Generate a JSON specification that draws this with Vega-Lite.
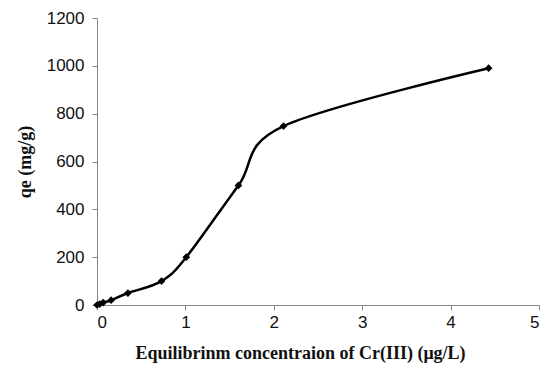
{
  "$schema": "https://vega.github.io/schema/vega-lite/v6.json",
  "autosize": "none",
  "width": 442,
  "height": 287,
  "padding": {"left": 97, "top": 18, "right": 7, "bottom": 66},
  "background": "white",
  "config": {
    "view": {"stroke": null},
    "axis": {
      "grid": false,
      "domainColor": "#868686",
      "tickColor": "#868686",
      "tickSize": 5,
      "labelFont": "Liberation Sans",
      "labelFontSize": 17,
      "labelColor": "#111111",
      "titleFont": "Liberation Serif",
      "titleFontSize": 18,
      "titleFontWeight": "bold",
      "titleColor": "#111111"
    }
  },
  "data": {
    "values": [
      {"x": 0, "y": 0},
      {"x": 0.03, "y": 4},
      {"x": 0.07, "y": 10},
      {"x": 0.16, "y": 20},
      {"x": 0.35, "y": 50},
      {"x": 0.73, "y": 100},
      {"x": 1.01, "y": 200},
      {"x": 1.6, "y": 500},
      {"x": 2.11, "y": 748},
      {"x": 4.43, "y": 990}
    ]
  },
  "encoding": {
    "x": {
      "field": "x",
      "type": "quantitative",
      "scale": {"domain": [0, 5], "nice": false},
      "axis": {"values": [0, 1, 2, 3, 4, 5], "format": "d", "title": "Equilibrinm concentraion of Cr(III) (μg/L)", "titlePadding": 14, "labelPadding": 4, "titleX": 203}
    },
    "y": {
      "field": "y",
      "type": "quantitative",
      "scale": {"domain": [0, 1200], "nice": false},
      "axis": {"values": [0, 200, 400, 600, 800, 1000, 1200], "format": "d", "title": "qe (mg/g)", "titlePadding": 12, "labelPadding": 8}
    }
  },
  "layer": [
    {"mark": {"type": "line", "interpolate": "cardinal", "tension": 0, "color": "black", "strokeWidth": 2.5}},
    {"mark": {"type": "point", "shape": "diamond", "filled": true, "color": "black", "size": 60, "opacity": 1}}
  ]
}
